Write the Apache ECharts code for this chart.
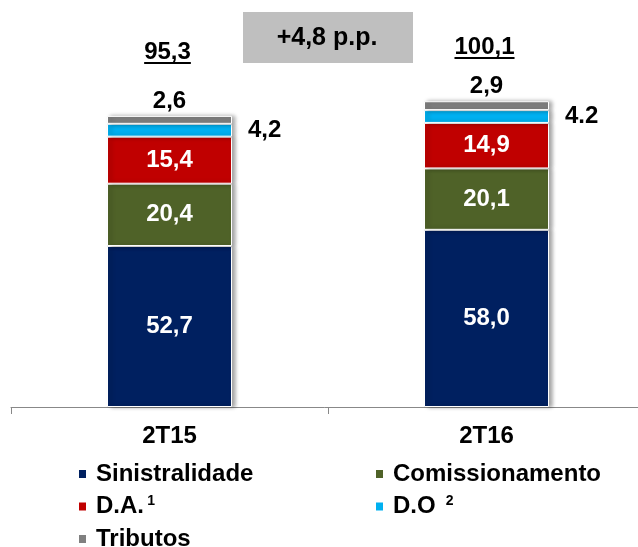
<!DOCTYPE html>
<html>
<head>
<meta charset="utf-8">
<script src="https://cdn.jsdelivr.net/npm/echarts@6/dist/echarts.min.js"></script>
<style>
  html, body { margin: 0; padding: 0; background: #fff; }
  #chart { width: 638px; height: 547px; }
</style>
</head>
<body>
<div id="chart"></div>
<script>
// dados do gráfico
const categories = ['2T15', '2T16'];
const sinistralidade = [52.7, 58.0];
const comissionamento = [20.4, 20.1];
const despAdm = [15.4, 14.9];
const despOp = [4.2, 4.2];
const tributos = [2.6, 2.9];

const FONT = '"Liberation Sans", Arial, sans-serif';
const FS = 24;
const chart = echarts.init(document.getElementById('chart'));

const fmt = (v, sep) => v.toFixed(1).replace('.', sep || ',');

// estilo comum das barras
function barSeries(name, data, color, label) {
    return {
        type: 'bar',
        name: name,
        stack: 'total',
        data: data,
        barWidth: 125,
        itemStyle: {
            color: color,
            borderColor: '#fff',
            borderWidth: 1,
            shadowColor: 'rgba(0,0,0,0.35)',
            shadowBlur: 4,
            shadowOffsetX: 3
        },
        label: label
    };
}

const innerLabel = {
    show: true,
    color: '#fff',
    fontFamily: FONT,
    fontWeight: 'bold',
    fontSize: FS,
    formatter: p => fmt(p.value)
};

// legendas: uma por item, em duas colunas
const legendPos = {
    'Sinistralidade': [77, 0], 'Comissionamento': [374, 0],
    'D.A.': [77, 1], 'D.O': [374, 1], 'Tributos': [77, 2]
};
const legendText = {
    'Sinistralidade': '{n|Sinistralidade}',
    'Comissionamento': '{n|Comissionamento}',
    'D.A.': '{n|D.A.} {s|1}',
    'D.O': '{n|D.O}   {s|2}',
    'Tributos': '{n|Tributos}'
};
const legends = Object.keys(legendPos).map(name => ({
    orient: 'horizontal',
    left: legendPos[name][0],
    top: 462 + legendPos[name][1] * 32.5,
    padding: 0,
    itemWidth: 9, itemHeight: 10, icon: 'rect',
    data: [name],
    formatter: n => legendText[n],
    textStyle: {
        padding: [0, 0, 0, 4],
        rich: {
            n: { fontFamily: FONT, fontWeight: 'bold', fontSize: FS, lineHeight: 24, color: '#000' },
            s: { fontFamily: FONT, fontWeight: 'bold', fontSize: 14, lineHeight: 14, color: '#000', verticalAlign: 'top' }
        }
    }
}));

chart.setOption({
    animation: false,
    grid: { left: 11, width: 634, top: 71, bottom: 140, outerBoundsMode: 'none' },
    xAxis: {
        type: 'category',
        data: categories,
        axisLine: { lineStyle: { color: '#888', width: 1 } },
        axisTick: { show: true, length: 7, lineStyle: { color: '#888' } },
        axisLabel: {
            color: '#000', fontFamily: FONT, fontWeight: 'bold', fontSize: FS, margin: 17
        }
    },
    yAxis: { type: 'value', min: 0, max: 110, show: false },
    legend: legends,
    series: [
        barSeries('Sinistralidade', sinistralidade, '#002060', innerLabel),
        barSeries('Comissionamento', comissionamento, '#4F6228', innerLabel),
        barSeries('D.A.', despAdm, '#C00000', innerLabel),
        barSeries('D.O', despOp, '#00B0F0', {
            show: true, position: 'right', distance: 16,
            color: '#000', fontFamily: FONT, fontWeight: 'bold', fontSize: FS,
            formatter: p => fmt(p.value, p.dataIndex === 1 ? '.' : ',')
        }),
        barSeries('Tributos', tributos, '#808080', {
            show: true, position: 'top', distance: 3,
            color: '#000', fontFamily: FONT, fontWeight: 'bold', fontSize: FS,
            formatter: p => fmt(p.value)
        })
    ]
});

// totais sublinhados + caixa de variação
const totals = categories.map((c, i) =>
    Math.round((sinistralidade[i] + comissionamento[i] + despAdm[i] + despOp[i] + tributos[i]) * 10) / 10);
const totalY = [52, 47];

const ctx = document.createElement('canvas').getContext('2d');
ctx.font = 'bold ' + FS + 'px ' + FONT;

const graphics = [];
categories.forEach((c, i) => {
    const x = chart.convertToPixel({ xAxisIndex: 0 }, c) - 2;
    const txt = fmt(totals[i]);
    const w = ctx.measureText(txt).width;
    graphics.push({
        type: 'text', x: x, y: totalY[i],
        style: { text: txt, fill: '#000', font: 'bold ' + FS + 'px ' + FONT, align: 'center', verticalAlign: 'middle' }
    });
    graphics.push({
        type: 'rect', shape: { x: x - w / 2, y: totalY[i] + 10, width: w, height: 2 },
        style: { fill: '#000' }
    });
});

const delta = Math.round((totals[1] - totals[0]) * 10) / 10;
graphics.push({
    type: 'rect', shape: { x: 243, y: 12, width: 170, height: 51 },
    style: { fill: '#BFBFBF' }
});
graphics.push({
    type: 'text', x: 327, y: 38,
    style: {
        text: '+' + fmt(delta) + ' p.p.', fill: '#000', font: 'bold 25px ' + FONT,
        align: 'center', verticalAlign: 'middle'
    }
});

chart.setOption({ graphic: graphics });
</script>
</body>
</html>
